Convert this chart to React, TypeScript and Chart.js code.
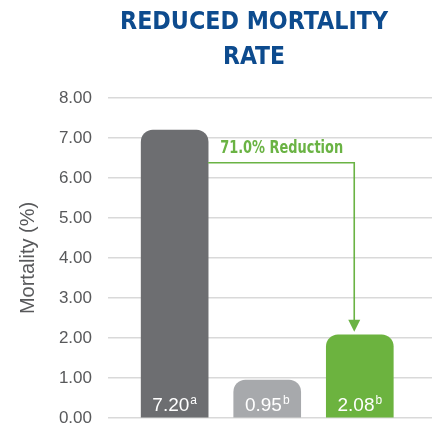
import React, { useEffect, useRef } from 'react';
import { Chart, registerables } from 'chart.js';

Chart.register(...registerables);

// ---- data ----
const categories = ['Group 1', 'Group 2', 'Group 3'];
const mortality = [7.2, 0.95, 2.08];
const superscripts = ['a', 'b', 'b'];
const barColors = ['#6d6e71', '#a7a9ac', '#6cb33f'];
const yTicks = [0, 1, 2, 3, 4, 5, 6, 7, 8];
const titleLines = ['REDUCED MORTALITY', 'RATE'];
const reductionLabel = '71.0% Reduction';
const connectorLevel = 6.38; // y value of the horizontal connector
const arrowXValue = 1.94; // x position (category index units) of the down arrow

const GREEN = '#6ab344';
const TITLE_BLUE = '#0d4b8e';
const AXIS_GRAY = '#58595b';
const SANS = '"Liberation Sans", Arial, Helvetica, sans-serif';
const COND = '"DejaVu Sans Condensed", "Liberation Sans Narrow", "Roboto", sans-serif';

function fitText(ctx: CanvasRenderingContext2D, text: string, cx: number, base: number, targetW: number, align: 'center' | 'left') {
  const w = ctx.measureText(text).width;
  const s = w > targetW ? targetW / w : 1;
  ctx.save();
  ctx.textAlign = 'left';
  ctx.textBaseline = 'alphabetic';
  const drawnW = w * s;
  const left = align === 'center' ? cx - drawnW / 2 : cx;
  ctx.translate(left, base);
  ctx.scale(s, 1);
  ctx.fillText(text, 0, 0);
  ctx.restore();
}

const overlayPlugin = {
  id: 'overlay',
  afterDatasetsDraw(chart: any) {
    const { ctx, scales } = chart;
    const x = scales.x;
    const y = scales.y;
    const meta = chart.getDatasetMeta(0);
    const zero = y.getPixelForValue(0);

    // value labels with superscripts
    meta.data.forEach((bar: any, i: number) => {
      const txt = mortality[i].toFixed(2);
      ctx.save();
      ctx.fillStyle = '#ffffff';
      ctx.textBaseline = 'alphabetic';
      ctx.textAlign = 'left';
      ctx.font = `19px ${SANS}`;
      const w1 = ctx.measureText(txt).width;
      ctx.font = `12px ${SANS}`;
      const w2 = ctx.measureText(superscripts[i]).width;
      const total = w1 + 1 + w2;
      const start = bar.x - total / 2;
      const base = zero - 7;
      ctx.font = `19px ${SANS}`;
      ctx.fillText(txt, start, base);
      ctx.font = `12px ${SANS}`;
      ctx.fillText(superscripts[i], start + w1 + 1, base - 7);
      ctx.restore();
    });

    // connector arrow
    const b0 = meta.data[0];
    const b2 = meta.data[2];
    const x0 = b0.x + b0.width / 2;
    const cy = y.getPixelForValue(connectorLevel);
    const ax = x.getPixelForValue(arrowXValue);
    const tip = b2.y - 3;
    ctx.save();
    ctx.strokeStyle = GREEN;
    ctx.fillStyle = GREEN;
    ctx.lineWidth = 1.6;
    ctx.beginPath();
    ctx.moveTo(x0, cy);
    ctx.lineTo(ax, cy);
    ctx.lineTo(ax, tip - 11);
    ctx.stroke();
    ctx.beginPath();
    ctx.moveTo(ax - 6, tip - 12);
    ctx.lineTo(ax + 6, tip - 12);
    ctx.lineTo(ax, tip);
    ctx.closePath();
    ctx.fill();
    ctx.font = `bold 17.5px ${COND}`;
    fitText(ctx, reductionLabel, x0 + 12, cy - 10, 123, 'left');
    ctx.restore();

    // title
    ctx.save();
    ctx.fillStyle = TITLE_BLUE;
    ctx.font = `bold 25px ${COND}`;
    fitText(ctx, titleLines[0], 254, 29, 268, 'center');
    fitText(ctx, titleLines[1], 254, 64, 62, 'center');
    ctx.restore();
  },
};

export default function App() {
  const ref = useRef<HTMLCanvasElement | null>(null);

  useEffect(() => {
    if (!ref.current) return;
    const chart = new Chart(ref.current, {
      type: 'bar',
      data: {
        labels: categories,
        datasets: [
          {
            data: mortality.map((v, i) => ({ x: i, y: v })) as any,
            backgroundColor: barColors,
            borderRadius: { topLeft: 12, topRight: 12, bottomLeft: 0, bottomRight: 0 },
            borderSkipped: false,
            barThickness: 67,
          },
        ],
      },
      options: {
        animation: false,
        responsive: false,
        maintainAspectRatio: false,
        layout: { padding: { top: 98, bottom: 14, left: 0, right: 0 } },
        plugins: { legend: { display: false }, tooltip: { enabled: false }, title: { display: false } },
        scales: {
          x: { type: 'linear', min: -0.72, max: 2.78, display: false, offset: false, grid: { offset: false } },
          y: {
            min: 0,
            max: 8,
            afterFit(s: any) {
              s.width = 108;
              s.paddingTop = 0;
              s.paddingBottom = 0;
            },
            afterBuildTicks(s: any) {
              s.ticks = yTicks.map((v) => ({ value: v }));
            },
            ticks: {
              padding: 16,
              color: AXIS_GRAY,
              font: { size: 17, family: SANS },
              callback: (v: any) => Number(v).toFixed(2),
            },
            grid: { color: '#d9d9d9', lineWidth: 1.5, drawTicks: false },
            border: { display: false },
            title: {
              display: true,
              text: 'Mortality (%)',
              color: AXIS_GRAY,
              font: { size: 20, family: SANS },
              padding: { top: 16, bottom: 0 },
            },
          },
        },
      },
      plugins: [overlayPlugin],
    });
    return () => chart.destroy();
  }, []);

  return (
    <div style={{ position: 'fixed', left: 0, top: 0, width: 432, height: 432, background: '#ffffff' }}>
      <canvas ref={ref} width={432} height={432} style={{ width: 432, height: 432, display: 'block' }} />
    </div>
  );
}
